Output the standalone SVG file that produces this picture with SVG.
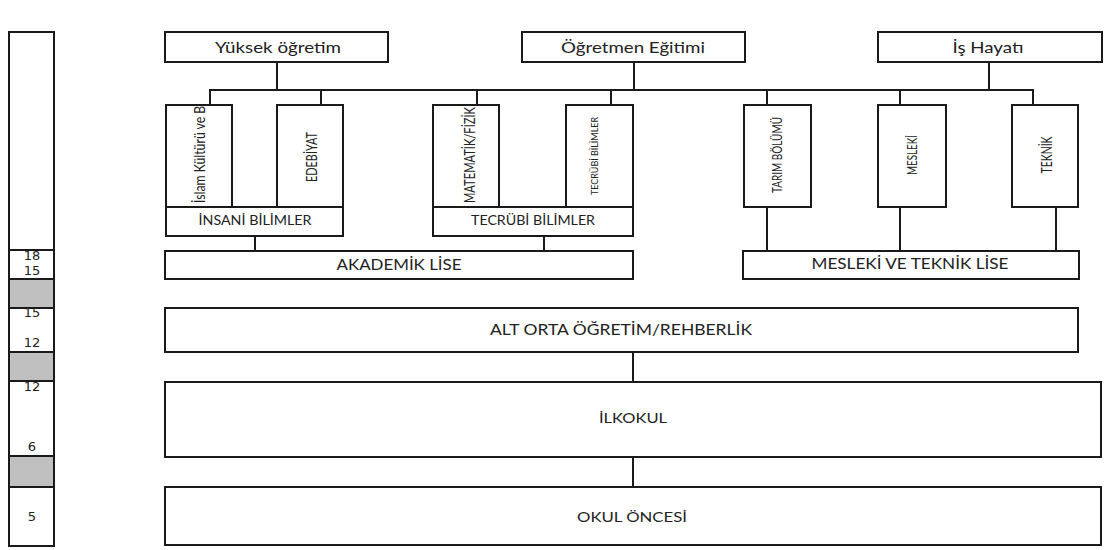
<svg xmlns="http://www.w3.org/2000/svg" width="1110" height="550" viewBox="0 0 1110 550">
<defs>
<style>
.box{fill:#fff;stroke:#1a1a1a;stroke-width:2}
.gray{fill:#c0c0c0;stroke:#1a1a1a;stroke-width:2}
.ln{stroke:#1a1a1a;stroke-width:2;fill:none}
.t{font-family:Lato,"Open Sans","Liberation Sans",sans-serif;fill:#222;text-anchor:middle}
.n{font-family:"DejaVu Sans",sans-serif;font-size:13px;fill:#222;text-anchor:middle}
</style>
<clipPath id="c1"><rect x="9" y="251" width="45" height="28"/></clipPath>
<clipPath id="c2"><rect x="9" y="308" width="45" height="44"/></clipPath>
<clipPath id="c3"><rect x="9" y="381" width="45" height="75"/></clipPath>
<clipPath id="cIslam"><rect x="167" y="106" width="64" height="100"/></clipPath>
</defs>
<rect width="1110" height="550" fill="#fff"/>

<g id="age-column">
<rect class="box" x="9" y="32" width="45" height="514"/>
<line class="ln" x1="9" y1="250" x2="54" y2="250"/>
<g clip-path="url(#c1)"><text class="n" x="32" y="260">18</text><text class="n" x="32" y="275">15</text></g>
<rect class="gray" x="9" y="279" width="45" height="29"/>
<g clip-path="url(#c2)"><text class="n" x="32" y="317">15</text><text class="n" x="32" y="347">12</text></g>
<rect class="gray" x="9" y="352" width="45" height="29"/>
<g clip-path="url(#c3)"><text class="n" x="32" y="391">12</text><text class="n" x="32" y="451">6</text></g>
<rect class="gray" x="9" y="456" width="45" height="31"/>
<text class="n" x="32" y="521">5</text>
</g>

<g id="connectors">
<line class="ln" x1="277" y1="62" x2="277" y2="90"/>
<line class="ln" x1="634" y1="62" x2="634" y2="90"/>
<line class="ln" x1="989" y1="62" x2="989" y2="90"/>
<line class="ln" x1="209" y1="90" x2="1034" y2="90"/>
<line class="ln" x1="210" y1="90" x2="210" y2="105"/>
<line class="ln" x1="321" y1="90" x2="321" y2="105"/>
<line class="ln" x1="477" y1="90" x2="477" y2="105"/>
<line class="ln" x1="611" y1="90" x2="611" y2="105"/>
<line class="ln" x1="767" y1="90" x2="767" y2="105"/>
<line class="ln" x1="900" y1="90" x2="900" y2="105"/>
<line class="ln" x1="1033" y1="90" x2="1033" y2="105"/>
<line class="ln" x1="255" y1="236" x2="255" y2="251"/>
<line class="ln" x1="544" y1="236" x2="544" y2="251"/>
<line class="ln" x1="767" y1="207" x2="767" y2="251"/>
<line class="ln" x1="900" y1="207" x2="900" y2="251"/>
<line class="ln" x1="1056" y1="207" x2="1056" y2="251"/>
<line class="ln" x1="633" y1="352" x2="633" y2="382"/>
<line class="ln" x1="633" y1="457" x2="633" y2="487"/>
</g>

<g id="yuksek"><rect class="box" x="165" y="32" width="223" height="30"/><text class="t" font-size="16" x="278" y="53" textLength="126" lengthAdjust="spacingAndGlyphs">Yüksek öğretim</text></g>
<g id="ogretmen"><rect class="box" x="522" y="32" width="223" height="30"/><text class="t" font-size="16" x="633" y="53" textLength="144" lengthAdjust="spacingAndGlyphs">Öğretmen Eğitimi</text></g>
<g id="is-hayati"><rect class="box" x="878" y="32" width="224" height="30"/><text class="t" font-size="16" x="988" y="53" textLength="71" lengthAdjust="spacingAndGlyphs">İş Hayatı</text></g>

<g id="islam"><rect class="box" x="166" y="105" width="66" height="102"/>
<g clip-path="url(#cIslam)"><text class="t" font-size="15" transform="translate(205,203) rotate(-90)" style="text-anchor:start" textLength="100" lengthAdjust="spacingAndGlyphs">İslam Kültürü ve Bi</text></g></g>
<g id="edebiyat"><rect class="box" x="277" y="105" width="66" height="102"/><text class="t" font-size="15" transform="translate(317,157) rotate(-90)" textLength="50" lengthAdjust="spacingAndGlyphs">EDEBİYAT</text></g>
<g id="matematik"><rect class="box" x="433" y="105" width="66" height="102"/><text class="t" font-size="16" transform="translate(475,155) rotate(-90)" textLength="96" lengthAdjust="spacingAndGlyphs">MATEMATİK/FİZİK</text></g>
<g id="tecrubi-col"><rect class="box" x="566" y="105" width="67" height="102"/><text class="t" font-size="10" transform="translate(598,156) rotate(-90)" textLength="78" lengthAdjust="spacingAndGlyphs">TECRÜBİ BİLİMLER</text></g>
<g id="insani"><rect class="box" x="166" y="207" width="177" height="29"/><text class="t" font-size="13" x="255" y="225" textLength="113" lengthAdjust="spacingAndGlyphs">İNSANİ BİLİMLER</text></g>
<g id="tecrubi"><rect class="box" x="433" y="207" width="200" height="29"/><text class="t" font-size="13" x="533" y="225" textLength="124" lengthAdjust="spacingAndGlyphs">TECRÜBİ BİLİMLER</text></g>
<g id="akademik"><rect class="box" x="165" y="251" width="468" height="28"/><text class="t" font-size="16" x="399" y="270" textLength="125" lengthAdjust="spacingAndGlyphs">AKADEMİK LİSE</text></g>

<g id="tarim"><rect class="box" x="744" y="105" width="67" height="102"/><text class="t" font-size="14" transform="translate(782,155) rotate(-90)" textLength="76" lengthAdjust="spacingAndGlyphs">TARIM BÖLÜMÜ</text></g>
<g id="mesleki"><rect class="box" x="878" y="105" width="68" height="102"/><text class="t" font-size="14" transform="translate(917,155) rotate(-90)" textLength="40" lengthAdjust="spacingAndGlyphs">MESLEKİ</text></g>
<g id="teknik"><rect class="box" x="1012" y="105" width="66" height="102"/><text class="t" font-size="15" transform="translate(1052,155) rotate(-90)" textLength="37" lengthAdjust="spacingAndGlyphs">TEKNİK</text></g>
<g id="mesleki-teknik"><rect class="box" x="743" y="251" width="336" height="28"/><text class="t" font-size="16" x="910" y="269" textLength="197" lengthAdjust="spacingAndGlyphs">MESLEKİ VE TEKNİK LİSE</text></g>

<g id="alt-orta"><rect class="box" x="165" y="308" width="913" height="44"/><text class="t" font-size="15" x="621" y="335" textLength="262" lengthAdjust="spacingAndGlyphs">ALT ORTA ÖĞRETİM/REHBERLİK</text></g>
<g id="ilkokul"><rect class="box" x="165" y="382" width="936" height="75"/><text class="t" font-size="14" x="633" y="423" textLength="68" lengthAdjust="spacingAndGlyphs">İLKOKUL</text></g>
<g id="okul-oncesi"><rect class="box" x="165" y="487" width="936" height="58"/><text class="t" font-size="14" x="632" y="522" textLength="110" lengthAdjust="spacingAndGlyphs">OKUL ÖNCESİ</text></g>
</svg>
